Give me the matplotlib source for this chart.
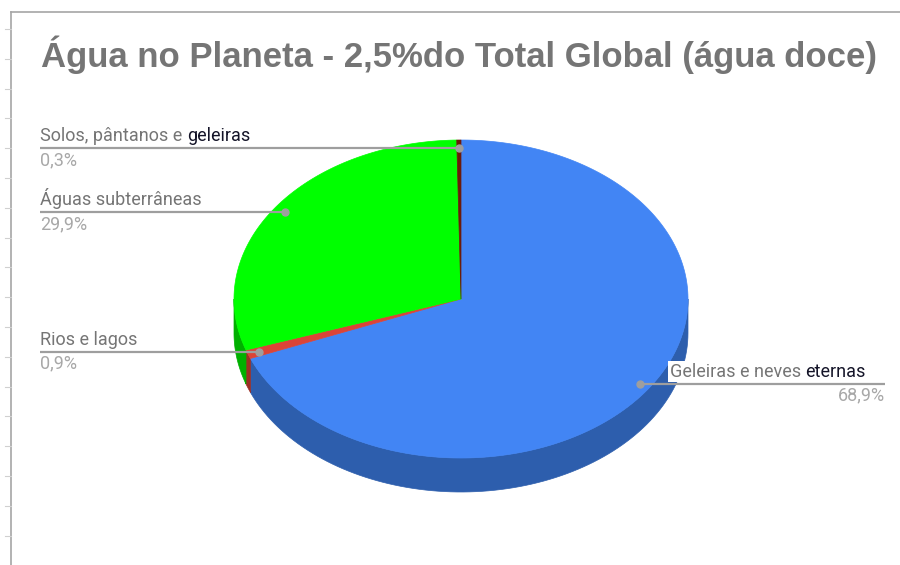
import numpy as np
import matplotlib.pyplot as plt
from matplotlib.patches import Polygon

# data, clockwise from 12 o'clock
labels = ["Geleiras e neves eternas", "Rios e lagos", "Águas subterrâneas", "Solos, pântanos e geleiras"]
dark_words = ["eternas", "", "", "geleiras"]   # words shown darker in the original
values = [68.9, 0.9, 29.9, 0.3]
pct_labels = ["68,9%", "0,9%", "29,9%", "0,3%"]
top_colors = ["#4285f4", "#db4437", "#00ff00", "#6b1a0a"]
side_colors = ["#2d5ead", "#9c2f25", "#00b000", "#4a1207"]
title = "Água no Planeta - 2,5%do Total Global (água doce)"

# pie geometry in pixels
cx, cy, rx, ry, depth = 461, 299, 227, 159, 34

fig = plt.figure(figsize=(9, 5.65), dpi=100)
ax = fig.add_axes([0, 0, 1, 1])
ax.set_xlim(0, 900)
ax.set_ylim(565, 0)
ax.axis("off")

# screenshot frame
ax.plot([11, 11], [12, 565], color="#a6a6a6", lw=1.2)
ax.plot([11, 900], [12, 12], color="#a6a6a6", lw=1.2)
for ty in np.arange(29, 560, 29.8):
    ax.plot([5, 11], [ty, ty], color="#d0d0d0", lw=0.8)


def pt(t, r=1.0):
    return cx + r * rx * np.sin(t), cy - r * ry * np.cos(t)


fr = np.array(values) / sum(values)
starts = np.concatenate([[0], np.cumsum(fr)[:-1]]) * 2 * np.pi
ends = np.cumsum(fr) * 2 * np.pi

# rim (front half only)
for a, b, c in zip(starts, ends, side_colors):
    lo, hi = max(a, np.pi / 2), min(b, 3 * np.pi / 2)
    if hi <= lo:
        continue
    t = np.linspace(lo, hi, 100)
    x, y = pt(t)
    poly = np.column_stack([np.concatenate([x, x[::-1]]),
                            np.concatenate([y, (y + depth)[::-1]])])
    ax.add_patch(Polygon(poly, closed=True, fc=c, ec=c, lw=0.5))

# top faces
for a, b, c in zip(starts, ends, top_colors):
    t = np.linspace(a, b, max(4, int((b - a) * 60)))
    x, y = pt(t)
    poly = np.column_stack([np.concatenate([[cx], x]), np.concatenate([[cy], y])])
    ax.add_patch(Polygon(poly, closed=True, fc=c, ec=c, lw=0.5))

ax.text(459, 67, title, ha="center", va="baseline", fontsize=25, fontweight="bold",
        color="#757575", family=["Liberation Sans Narrow", "Liberation Sans"])

fig.canvas.draw()
renderer = fig.canvas.get_renderer()
inv = ax.transData.inverted()


def width_of(txt):
    bb = txt.get_window_extent(renderer)
    (x0, _), (x1, _) = inv.transform([[bb.x0, bb.y0], [bb.x1, bb.y1]])
    return x0, x1


fs = 13
lab_kw = dict(fontsize=fs, family="Roboto", va="baseline")
line_c = "#9e9e9e"
for lab, dw, a, b, pct in zip(labels, dark_words, starts, ends, pct_labels):
    mid = (a + b) / 2
    axx, axy = pt(mid, 0.95)
    plain = lab[: len(lab) - len(dw)].rstrip() if dw else lab
    if np.sin(mid) < 0:
        # left side labels
        ax.plot([40, axx], [axy, axy], color=line_c, lw=1.6, solid_capstyle="butt")
        ax.plot(axx, axy, "o", color=line_c, ms=5)
        t1 = ax.text(40, axy - 7, plain, color="#757575", ha="left", **lab_kw)
        if dw:
            _, x1 = width_of(t1)
            ax.text(x1 + 5, axy - 7, dw, color="#141428", ha="left", **lab_kw)
        ax.text(40, axy + 3, pct, color="#a8a8a8", ha="left", fontsize=fs,
                family="Roboto", va="top")
    else:
        ax.plot([axx, 885], [axy, axy], color=line_c, lw=1.6, solid_capstyle="butt")
        ax.plot(axx, axy, "o", color=line_c, ms=5)
        if dw:
            t2 = ax.text(866, axy - 7, dw, color="#141428", ha="right", **lab_kw)
            x0, _ = width_of(t2)
            ax.text(x0 - 5, axy - 7, plain, color="#757575", ha="right",
                    bbox=dict(fc="white", ec="none", pad=1), **lab_kw)
        else:
            ax.text(866, axy - 7, plain, color="#757575", ha="right", **lab_kw)
        ax.text(885, axy + 3, pct, color="#a8a8a8", ha="right", fontsize=fs,
                family="Roboto", va="top")

fig.savefig("out.png", dpi=100, facecolor="white")
